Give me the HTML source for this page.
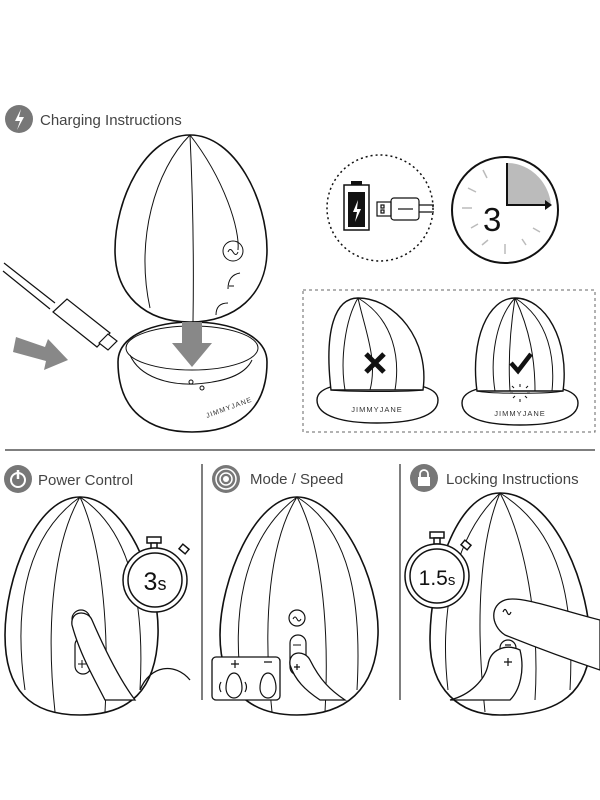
<!DOCTYPE html>
<html><head><meta charset="utf-8"><style>
html,body{margin:0;padding:0;background:#fff;}
svg{display:block;}
text{font-family:"Liberation Sans",sans-serif;}
</style></head><body>
<svg width="600" height="800" viewBox="0 0 600 800" xmlns="http://www.w3.org/2000/svg">
<rect width="600" height="800" fill="#fff"/>
<circle cx="19" cy="119" r="14" fill="#777"/>
<path d="M21,109 L15,121 L20,121 L17,130 L24,117 L19,117 Z" fill="#fff"/>
<text x="40" y="125" font-size="15" fill="#444">Charging Instructions</text>

<g fill="none" stroke="#111" stroke-width="1.6">
<!-- base -->
<path d="M118,362 C118,335 155,322 192,322 C230,322 267,335 267,362 C267,412 235,432 192,432 C150,432 118,412 118,362 Z" fill="#fff"/>
<ellipse cx="192" cy="348" rx="66" ry="22" stroke-width="1"/>
<path d="M130,355 C140,378 170,385 195,384 C225,382 245,375 252,360" stroke-width="1"/>
<circle cx="191" cy="382" r="2" stroke-width="1"/>
<circle cx="202" cy="388" r="2" stroke-width="1"/>
<!-- top egg -->
<path d="M190,135 C235,135 267,200 267,250 C267,295 235,322 190,322 C145,322 115,295 115,250 C115,200 145,135 190,135 Z" fill="#fff"/>
<path d="M190,135 C155,170 135,240 150,308" stroke-width="1"/>
<path d="M190,135 C193,200 194,260 193,322" stroke-width="1"/>
<path d="M190,135 C225,180 240,230 238,250" stroke-width="1"/>
<circle cx="233" cy="251" r="10" stroke-width="1"/>
<path d="M228,252 q2,-5 5,0 q3,5 5,0" stroke-width="1"/>
<path d="M240,273 q-12,2 -12,16 M229,286 h5" stroke-width="1"/>
<path d="M228,303 q-12,0 -12,12" stroke-width="1"/>
<!-- cable -->
<path d="M4,263 L55,303 M3,271 L50,309" stroke-width="1.2"/>
<path d="M53,312 L67,299 L110,333 L97,347 Z" fill="#fff" stroke-width="1.2"/>
<path d="M99,343 L108,334 L117,341 L108,350 Z" fill="#fff" stroke-width="1.2"/>
</g>
<text x="207" y="418" font-size="7" fill="#333" transform="rotate(-20 207 418)" letter-spacing="1">JIMMYJANE</text>
<path d="M16,337 L45,347 L48,339 L68,360 L44,370 L46,361 L13,352 Z" fill="#888"/>
<path d="M182,322 L202,322 L202,343 L212,343 L192,367 L172,343 L182,343 Z" fill="#888"/>

<circle cx="380" cy="208" r="53" fill="none" stroke="#111" stroke-width="1.5" stroke-dasharray="2,3"/>
<rect x="344" y="185" width="25" height="45" fill="#fff" stroke="#111" stroke-width="1.5"/>
<rect x="351" y="181" width="11" height="4" fill="#111"/>
<rect x="348" y="192" width="17" height="35" fill="#111"/>
<path d="M358,200 L353,212 L357,212 L355,222 L361,209 L357,209 Z" fill="#fff"/>
<g fill="none" stroke="#111" stroke-width="1.2">
<rect x="377" y="202" width="14" height="14"/><rect x="381" y="205" width="3" height="3"/><rect x="381" y="210" width="3" height="3"/>
<rect x="391" y="198" width="28" height="22" rx="3"/>
<path d="M419,205 L434,205 M419,212 L434,212"/>
<path d="M398,209 L413,209"/>
</g>
<circle cx="505" cy="210" r="53" fill="#fff" stroke="#111" stroke-width="2"/>
<path d="M507,163 L507,205 L551,205 C549,182 530,163 507,163 Z" fill="#bbb"/>
<path d="M507,163 L507,205 L546,205" fill="none" stroke="#111" stroke-width="2"/>
<path d="M545,200 L552,205 L545,210 Z" fill="#111"/>
<g stroke="#bbb" stroke-width="1.5">
<path d="M462,208 L472,208 M468,188 L476,192 M483,170 L487,178 M471,228 L478,224 M482,245 L488,240 M505,254 L505,244 M526,245 L522,239 M540,232 L533,228"/>
</g>
<text x="483" y="231" font-size="33" fill="#111">3</text>

<rect x="303" y="290" width="292" height="142" fill="none" stroke="#666" stroke-width="1" stroke-dasharray="3,3"/>
<g fill="#fff" stroke="#111" stroke-width="1.4">
<path d="M317,400 C317,385 345,383 377,383 C410,383 438,385 438,400 C438,417 410,423 377,423 C345,423 317,417 317,400 Z"/>
<path d="M331,390 C324,330 335,298 358,298 C395,298 430,340 423,390 Z"/>
<path d="M462,403 C462,388 490,385 520,385 C550,385 578,388 578,403 C578,420 550,425 520,425 C490,425 462,420 462,403 Z"/>
<path d="M477,391 C470,340 488,298 515,298 C545,298 570,340 563,391 Z"/>
</g>
<g fill="none" stroke="#111" stroke-width="1">
<path d="M331,390 C345,392 410,392 423,390"/>
<path d="M358,298 C345,320 340,360 345,390 M358,298 C365,330 378,360 370,390 M358,298 C395,320 400,360 395,390"/>
<path d="M477,391 C490,394 550,394 563,391"/>
<path d="M515,298 C495,320 490,360 495,391 M515,298 C510,330 508,360 510,391 M515,298 C530,330 535,360 535,391 M515,298 C550,320 555,360 552,391"/>
<path d="M520,384 v3 M512,386 l2,2 M528,386 l-2,2 M510,393 h3 M527,393 h3 M513,398 l2,-2 M527,398 l-2,-2 M520,402 v-3"/>
</g>
<path d="M366,354 L384,372 M384,354 L366,372" stroke="#111" stroke-width="5"/>
<path d="M511,363 L518,371 L531,354" fill="none" stroke="#111" stroke-width="4.5"/>
<text x="377" y="412" font-size="7.5" fill="#333" text-anchor="middle" letter-spacing="1">JIMMYJANE</text>
<text x="520" y="416" font-size="7.5" fill="#333" text-anchor="middle" letter-spacing="1">JIMMYJANE</text>

<line x1="5" y1="450" x2="595" y2="450" stroke="#555" stroke-width="1.5"/>
<line x1="202" y1="464" x2="202" y2="700" stroke="#555" stroke-width="1.5"/>
<line x1="400" y1="464" x2="400" y2="700" stroke="#555" stroke-width="1.5"/>

<circle cx="18" cy="479" r="14" fill="#777"/>
<circle cx="18" cy="480" r="7" fill="none" stroke="#fff" stroke-width="2"/>
<line x1="18" y1="470" x2="18" y2="479" stroke="#fff" stroke-width="2.5"/>
<text x="38" y="485" font-size="15" fill="#444">Power Control</text>
<circle cx="226" cy="479" r="14" fill="#777"/>
<circle cx="226" cy="479" r="10" fill="none" stroke="#fff" stroke-width="1.5"/>
<circle cx="226" cy="479" r="6" fill="none" stroke="#fff" stroke-width="1.5"/>
<circle cx="226" cy="479" r="3" fill="#fff"/>
<text x="250" y="484" font-size="15" fill="#444">Mode / Speed</text>
<circle cx="424" cy="478" r="14" fill="#777"/>
<rect x="418" y="477" width="12" height="9" fill="#fff"/>
<path d="M420,477 v-3 a4,4 0 0 1 8,0 v3" fill="none" stroke="#fff" stroke-width="1.8"/>
<text x="446" y="484" font-size="15" fill="#444">Locking Instructions</text>

<g fill="#fff" stroke="#111" stroke-width="1.6">
<path d="M80,497 C125,497 160,580 158,635 C156,690 130,715 80,715 C30,715 5,690 5,635 C5,580 35,497 80,497 Z"/>
<path d="M297,497 C340,497 380,580 378,635 C376,690 345,715 297,715 C250,715 220,690 220,635 C220,580 255,497 297,497 Z"/>
<path d="M500,493 C555,493 592,590 590,650 C585,700 550,715 500,715 C460,715 430,690 430,640 C430,580 455,493 500,493 Z"/>
</g>
<g fill="none" stroke="#111" stroke-width="1">
<path d="M80,497 C55,540 45,620 55,712 M80,497 C100,540 110,620 105,712 M80,497 C130,530 145,600 140,690 M80,497 C20,540 15,620 25,690"/>
<path d="M297,497 C270,540 262,620 272,712 M297,497 C320,540 330,620 325,712 M297,497 C350,530 362,600 357,690 M297,497 C240,540 232,620 242,690"/>
<path d="M500,493 C480,540 475,620 485,712 M500,493 C525,540 540,620 535,700 M500,493 C560,530 575,600 570,690 M500,493 C450,540 440,620 448,690"/>
</g>
<g fill="#fff" stroke="#111" stroke-width="1.2">
<circle cx="81" cy="619" r="9"/>
<rect x="75" y="637" width="16" height="37" rx="8"/>
<circle cx="297" cy="618" r="8"/>
<rect x="290" y="635" width="16" height="40" rx="8"/>
<rect x="500" y="640" width="16" height="35" rx="8"/>
</g>
<g fill="none" stroke="#111" stroke-width="1">
<path d="M77,620 q2,-5 4,0 q2,5 4,0"/><path d="M293,619 q2,-4 4,0 q2,4 4,0"/>
<path d="M79,646 h6 M78,664 h8 M82,660 v8 M293,645 h8"/>
</g>
<g fill="#fff" stroke="#111" stroke-width="1.5">
<rect x="147" y="537" width="14" height="6"/><rect x="151" y="543" width="6" height="6"/>
<rect x="180" y="546" width="8" height="6" transform="rotate(40 184 549)"/>
<circle cx="155" cy="580" r="32"/><circle cx="155" cy="580" r="27"/>
<rect x="430" y="532" width="14" height="6"/><rect x="434" y="538" width="6" height="6"/>
<rect x="462" y="542" width="8" height="6" transform="rotate(40 466 545)"/>
<circle cx="437" cy="576" r="32"/><circle cx="437" cy="576" r="27"/>
</g>
<text x="155" y="590" font-size="25" fill="#111" text-anchor="middle">3<tspan font-size="18">s</tspan></text>
<text x="437" y="585" font-size="21" fill="#111" text-anchor="middle">1.5<tspan font-size="15">s</tspan></text>
<g fill="#fff" stroke="#111" stroke-width="1.3">
<path d="M72,625 C70,610 88,610 92,620 C105,650 120,680 135,700 L105,700 C95,680 80,655 72,625 Z"/>
<path d="M140,690 C150,665 175,662 190,680" fill="none"/>
<path d="M290,665 C288,650 305,650 310,660 C320,680 330,690 345,700 L320,700 C305,690 295,680 290,665 Z"/>
<rect x="212" y="657" width="68" height="43" rx="4"/>
<path d="M600,620 C560,610 520,595 505,600 C490,605 490,625 505,635 C530,645 570,660 600,670 Z"/>
<path d="M520,650 C505,643 490,650 488,665 C485,680 470,695 450,700 L510,700 C520,690 525,670 520,650 Z"/>
</g>
<g fill="none" stroke="#111" stroke-width="1.2">
<path d="M231,664 h8 M235,660 v8 M264,662 h8"/>
<path d="M234,673 c-6,0 -8,10 -8,15 c0,6 4,10 8,10 c4,0 8,-4 8,-10 c0,-5 -2,-15 -8,-15 Z"/>
<path d="M268,673 c-6,0 -8,10 -8,15 c0,6 4,10 8,10 c4,0 8,-4 8,-10 c0,-5 -2,-15 -8,-15 Z"/>
<path d="M221,682 q-3,5 0,10 M245,682 q3,5 0,10"/>
<path d="M294,667 h6 M297,664 v6"/>
<path d="M503,612 q2,-5 4,0 q2,5 4,0 M504,662 h8 M508,658 v8 M505,645 h6"/>
</g>
</svg>
</body></html>
